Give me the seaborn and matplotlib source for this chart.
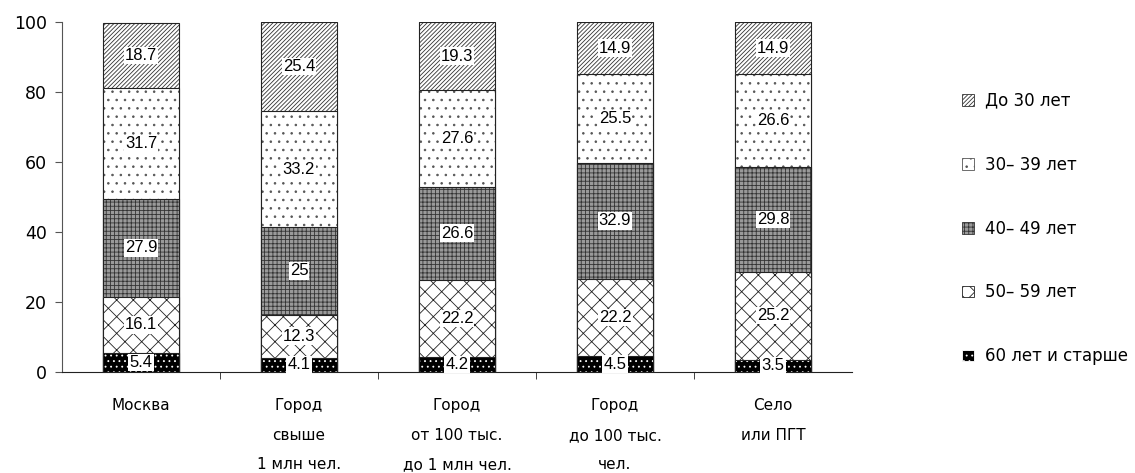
import matplotlib
matplotlib.use("Agg")
import matplotlib.pyplot as plt
import matplotlib.patches as mpatches
import seaborn as sns
import numpy as np
import pandas as pd

# категории (подписи по оси X)
categories = ["Москва", "Город\nсвыше\n1 млн чел.", "Город\nот 100 тыс.\nдо 1 млн чел.",
              "Город\nдо 100 тыс.\nчел.", "Село\nили ПГТ"]

# возрастные группы снизу вверх
groups = ["60 лет и старше", "50– 59 лет", "40– 49 лет", "30– 39 лет", "До 30 лет"]

age_60_plus = [5.4, 4.1, 4.2, 4.5, 3.5]
age_50_59 = [16.1, 12.3, 22.2, 22.2, 25.2]
age_40_49 = [27.9, 25, 26.6, 32.9, 29.8]
age_30_39 = [31.7, 33.2, 27.6, 25.5, 26.6]
age_to_30 = [18.7, 25.4, 19.3, 14.9, 14.9]

series = [age_60_plus, age_50_59, age_40_49, age_30_39, age_to_30]

# оформление слоёв: (заливка, цвет штриховки, штриховка)
styles = [
    ("black", "white", "..."),
    ("white", "#222222", "xx"),
    ("#9a9a9a", "#333333", "++++"),
    ("white", "#555555", ".."),
    ("white", "#333333", "////////"),
]

sns.set_style("white")
plt.rcParams["font.family"] = ["DejaVu Sans"]
plt.rcParams["hatch.linewidth"] = 0.6
plt.rcParams["text.color"] = "black"
plt.rcParams["xtick.color"] = "black"
plt.rcParams["ytick.color"] = "black"

fig = plt.figure(figsize=(11.35, 4.73), dpi=100)
ax = fig.add_axes([0.0546, 0.2135, 0.6961, 0.74])

df = pd.DataFrame({"cat": categories})
cum = np.cumsum(np.array(series), axis=0)
bar_w = 0.48

# рисуем накопленные суммы сверху вниз, нижние слои перекрывают верхние
for i in range(len(series) - 1, -1, -1):
    face, hcol, hatch = styles[i]
    df["val"] = cum[i]
    sns.barplot(data=df, x="cat", y="val", ax=ax, color=face, saturation=1,
                width=bar_w, errorbar=None, hatch=hatch, edgecolor=hcol, linewidth=0)
    sns.barplot(data=df, x="cat", y="val", ax=ax, fill=False, width=bar_w,
                errorbar=None, edgecolor="#222222", linewidth=0.8)

# подписи значений
for i, vals in enumerate(series):
    for j, v in enumerate(vals):
        ymid = cum[i][j] - v / 2
        ax.text(j, ymid, f"{v:g}", ha="center", va="center", fontsize=12,
                family="Liberation Sans",
                bbox=dict(facecolor="white", edgecolor="none", pad=0.8))

ax.set_xlim(-0.5, 4.5)
ax.set_ylim(0, 100)
ax.set_yticks([0, 20, 40, 60, 80, 100])
ax.set_xlabel("")
ax.set_ylabel("")

for s in ["top", "right"]:
    ax.spines[s].set_visible(False)
ax.spines["left"].set_color("#555555")
ax.spines["bottom"].set_color("#222222")

ax.tick_params(axis="y", labelsize=12.5, length=5, color="#555555", left=True, pad=6)
ax.set_xticks(range(5))
ax.set_xticklabels(categories, fontsize=11, linespacing=2.2)
ax.tick_params(axis="x", which="major", length=0, pad=19)
ax.set_xticks([0.5, 1.5, 2.5, 3.5], minor=True)
ax.tick_params(axis="x", which="minor", length=5, color="#222222", bottom=True)

# легенда
handles = []
for i in range(len(groups) - 1, -1, -1):
    face, hcol, hatch = styles[i]
    p = mpatches.Patch(facecolor=face, edgecolor=hcol, hatch=hatch, linewidth=0.6,
                       label=groups[i])
    handles.append(p)
leg = ax.legend(handles=handles, loc="center left", bbox_to_anchor=(1.12, 0.41),
                frameon=False, fontsize=12, handlelength=0.7, handleheight=0.7,
                labelspacing=2.75, handletextpad=0.7)

fig.savefig("out.png", dpi=100)
